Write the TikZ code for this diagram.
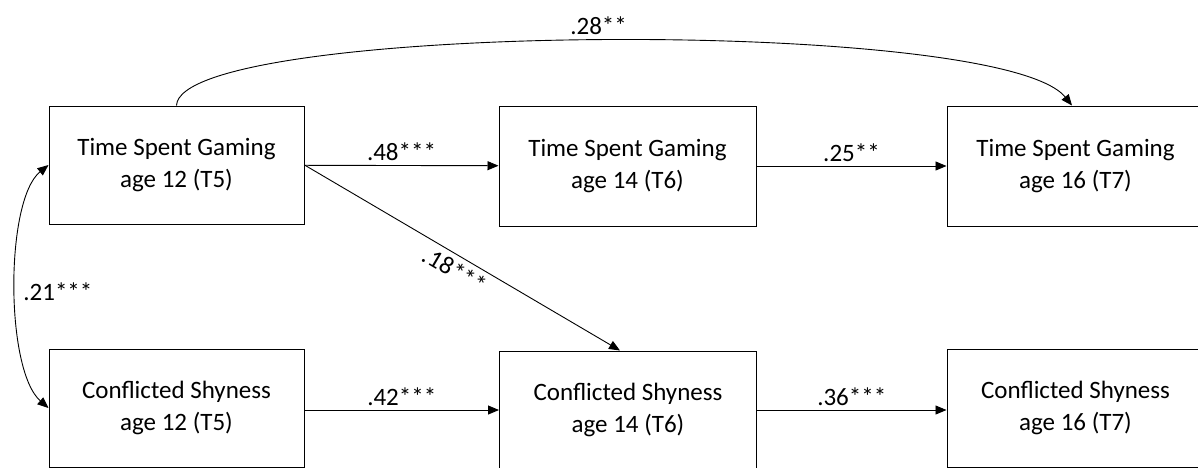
\documentclass[tikz,border=0pt]{standalone}
\usepackage{fontspec}
\setmainfont{Carlito}
\usetikzlibrary{arrows.meta,positioning}

\begin{document}
\begin{tikzpicture}
        [x=1pt,y=-1pt,
          every node/.style={font=\fontsize{25}{32}\selectfont},
          var/.style={draw,line width=1pt,align=center,minimum width=255pt,minimum height=118pt,inner sep=0pt},
          path/.style={line width=0.9pt,-{Triangle[length=11pt,width=9pt]}},
          coef/.style={inner sep=1pt}]
        \useasboundingbox (0,0) rectangle (1198,467);
        % time spent gaming
        \node[var] (tsgA) at (176.5,165) {Time Spent Gaming\\age 12 (T5)};
        \node[var,minimum width=257pt,minimum height=120pt] (tsgB) at (627.5,166) {Time Spent Gaming\\age 14 (T6)};
        \node[var,minimum width=257pt,minimum height=120pt] (tsgC) at (1075.5,166) {Time Spent Gaming\\age 16 (T7)};
        % conflicted shyness
        \node[var] (csA) at (176.5,408) {Conflicted Shyness\\age 12 (T5)};
        \node[var,minimum width=257pt] (csB) at (628,410) {Conflicted Shyness\\age 14 (T6)};
        \node[var,minimum width=257pt] (csC) at (1075.5,408) {Conflicted Shyness\\age 16 (T7)};

        \draw[path] (tsgA) -- node[coef,above=3pt] {.48***} (tsgB);
        \draw[path] (tsgB) -- node[coef,above=3pt] {.25**} (tsgC);
        \draw[path] (csA.east |- csB) -- node[coef,above=3pt] {.42***} (csB);
        \draw[path] (csB) -- node[coef,above=3pt] {.36***} (csC.west |- csB);
        \draw[path] (tsgA.east) -- node[coef,pos=0.5,sloped,below=4pt] {.18***} (csB.north -| 620,0);
        \draw[path] (tsgA.north) .. controls (180,22) and (1000,16) .. node[coef,pos=0.5,above=4pt] {.28**} (tsgC.north -| 1072,0);
        \draw[path,{Triangle[length=11pt,width=9pt]}-{Triangle[length=11pt,width=9pt]}]
          (tsgA.west) .. controls (5,200) and (5,370) .. node[coef,pos=0.52,right=6pt] {.21***} (csA.west);
      \end{tikzpicture}
\end{document}
